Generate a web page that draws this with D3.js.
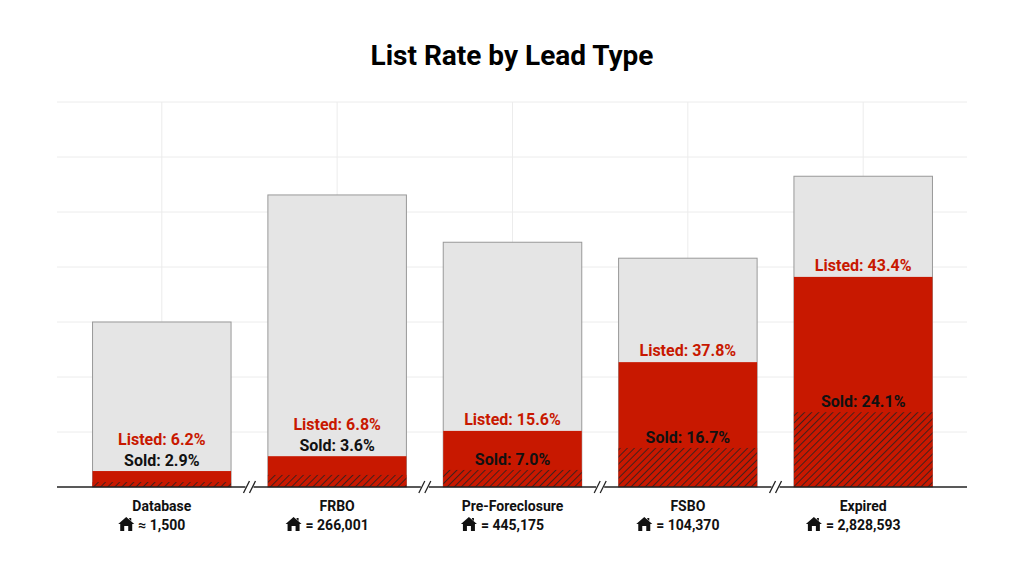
<!DOCTYPE html>
<html><head><meta charset="utf-8">
<script src="https://cdn.jsdelivr.net/npm/d3@7"></script>
<style>body{margin:0;background:#fff}text{font-family:Roboto,sans-serif;font-weight:700}</style>
</head><body><div id="chart"></div>
<script>
(function(){
    // data (heights in grid units)
    const categories = ['Database', 'FRBO', 'Pre-Foreclosure', 'FSBO', 'Expired'];
    const homes      = ['≈ 1,500', '= 266,001', '= 445,175', '= 104,370', '= 2,828,593'];
    const listedPct  = ['6.2%', '6.8%', '15.6%', '37.8%', '43.4%'];
    const soldPct    = ['2.9%', '3.6%', '7.0%', '16.7%', '24.1%'];
    const totalH     = [3.0, 5.31, 4.45, 4.16, 5.65];
    const listedH    = [0.29, 0.56, 1.02, 2.27, 3.82];
    const soldH      = [0.09, 0.22, 0.31, 0.71, 1.36];

    var WIDTH = 1024, HEIGHT = 576,
        X0 = 57, X1 = 967,
        Y_TOP = 102, Y_BASE = 487,
        RED = '#c81800';

    var svg = d3.select('#chart').append('svg').attr('width', WIDTH).attr('height', HEIGHT);

    var x = d3.scaleBand().domain(categories).range([75, 950]).paddingInner(0.21).paddingOuter(0.1);
    var y = d3.scaleLinear().domain([0, 7]).range([Y_BASE, Y_TOP]);

    // hatch pattern
    var pat = svg.append('defs').append('pattern').attr('id', 'hatch')
        .attr('patternUnits', 'userSpaceOnUse').attr('width', 5).attr('height', 5)
        .attr('patternTransform', 'rotate(45)');
    pat.append('rect').attr('width', 5).attr('height', 5).attr('fill', RED);
    pat.append('line').attr('x1', 0).attr('y1', 0).attr('x2', 0).attr('y2', 5)
        .attr('stroke', '#222').attr('stroke-width', 1.6);

    // grid
    svg.append('g').selectAll('line').data(d3.range(1, 8)).enter().append('line')
        .attr('x1', X0).attr('x2', X1).attr('y1', d => y(d)).attr('y2', d => y(d))
        .attr('stroke', '#ececec');
    svg.append('g').selectAll('line').data(categories).enter().append('line')
        .attr('x1', d => x(d) + x.bandwidth() / 2).attr('x2', d => x(d) + x.bandwidth() / 2)
        .attr('y1', Y_TOP).attr('y2', Y_BASE).attr('stroke', '#ececec');

    // title
    svg.append('text').attr('x', 512).attr('y', 65).attr('text-anchor', 'middle')
        .attr('font-size', 28).text('List Rate by Lead Type');

    var g = svg.append('g').selectAll('g').data(categories).enter().append('g');
    g.append('rect').attr('x', d => x(d)).attr('width', x.bandwidth())
        .attr('y', (d, i) => y(totalH[i])).attr('height', (d, i) => y(0) - y(totalH[i]))
        .attr('fill', '#e5e5e5').attr('stroke', '#999');
    g.append('rect').attr('x', d => x(d)).attr('width', x.bandwidth())
        .attr('y', (d, i) => y(listedH[i])).attr('height', (d, i) => y(0) - y(listedH[i]))
        .attr('fill', RED);
    g.append('rect').attr('x', d => x(d)).attr('width', x.bandwidth())
        .attr('y', (d, i) => y(soldH[i])).attr('height', (d, i) => y(0) - y(soldH[i]))
        .attr('fill', 'url(#hatch)');

    // label positions
    function soldY(i){
        var r = y(listedH[i]), s = y(soldH[i]);
        return (s - r < 25) ? r - 11 : s - 11;
    }
    function listedY(i){
        return Math.min(y(listedH[i]) - 12, soldY(i) - 21);
    }
    g.append('text').attr('x', d => x(d) + x.bandwidth() / 2).attr('y', (d, i) => listedY(i))
        .attr('dy', '0.35em').attr('text-anchor', 'middle').attr('font-size', 16).attr('fill', RED)
        .text((d, i) => 'Listed: ' + listedPct[i]);
    g.append('text').attr('x', d => x(d) + x.bandwidth() / 2).attr('y', (d, i) => soldY(i))
        .attr('dy', '0.35em').attr('text-anchor', 'middle').attr('font-size', 16).attr('fill', '#111')
        .text((d, i) => 'Sold: ' + soldPct[i]);

    // baseline
    svg.append('line').attr('x1', X0).attr('x2', X1).attr('y1', Y_BASE).attr('y2', Y_BASE)
        .attr('stroke', '#222').attr('stroke-width', 1.5);

    // break marks between bars
    var brk = svg.append('g').selectAll('g').data(categories.slice(1)).enter().append('g')
        .attr('transform', d => 'translate(' + (x(d) - x.step() * x.paddingInner() / 2) + ',' + Y_BASE + ')');
    brk.append('rect').attr('x', -4).attr('y', -3).attr('width', 8).attr('height', 6).attr('fill', '#fff');
    [-3, 3].forEach(function(o){
        brk.append('line').attr('x1', o - 3).attr('y1', 6).attr('x2', o + 3).attr('y2', -6)
            .attr('stroke', '#222').attr('stroke-width', 1.3);
    });

    // category labels
    var lab = svg.append('g').selectAll('g').data(categories).enter().append('g')
        .attr('transform', d => 'translate(' + (x(d) + x.bandwidth() / 2) + ',0)');
    lab.append('text').attr('y', 511).attr('text-anchor', 'middle').attr('font-size', 14).attr('fill', '#111')
        .text(d => d);
    var ht = lab.append('text').attr('y', 530).attr('text-anchor', 'middle').attr('font-size', 14).attr('fill', '#111')
        .text((d, i) => homes[i]);
    ht.each(function(){
        var w = this.getComputedTextLength();
        d3.select(this.parentNode).append('path')
            .attr('transform', 'translate(' + (-w / 2 - 20) + ',517)')
            .attr('d', 'M0,7 L8,0 L16,7 L14,7 L14,14 L10,14 L10,9 L6,9 L6,14 L2,14 L2,7 Z M11,1 L13,1 L13,4 L11,2 Z')
            .attr('fill', '#111');
    });
})();
</script></body></html>
